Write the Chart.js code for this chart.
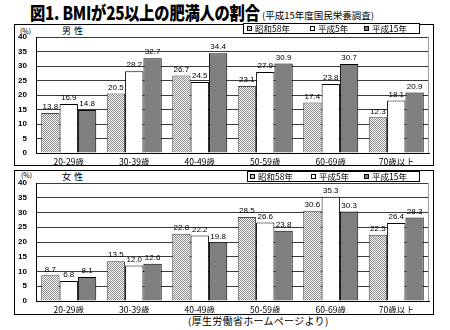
<!DOCTYPE html>
<html><head><meta charset="utf-8">
<script src="https://cdn.jsdelivr.net/npm/chart.js@4"></script>
<style>
html,body{margin:0;padding:0;background:#fff;width:450px;height:330px;overflow:hidden;position:relative;font-family:"Noto Sans CJK JP",sans-serif;color:#000;}
.box{position:absolute;border:1px solid #000;box-sizing:border-box;}
canvas{position:absolute;left:0;}
.txt{position:absolute;white-space:nowrap;line-height:1;}
#title{left:30px;top:3px;font-size:18px;font-weight:900;letter-spacing:-0.3px;transform:scaleX(0.85);transform-origin:0 0;}
#sub{left:262px;top:11px;font-size:9.5px;}
#foot{left:188px;top:316px;font-size:10px;letter-spacing:0.3px;}
.unit{font-size:7px;}
.sex{font-size:9px;letter-spacing:3px;}
</style></head>
<body>
<div class="txt" id="title">図1. BMIが25以上の肥満人の割合</div>
<div class="txt" id="sub">(平成15年度国民栄養調査)</div>
<div class="box" style="left:14px;top:24px;width:420px;height:142px;"></div>
<div class="box" style="left:14px;top:170px;width:420px;height:145px;"></div>
<div class="txt unit" style="left:20px;top:28px;">(%)</div>
<div class="txt sex" style="left:62px;top:26px;">男性</div>
<div class="txt unit" style="left:21px;top:172px;">(%)</div>
<div class="txt sex" style="left:62px;top:172px;">女性</div>
<div class="txt" id="foot">(厚生労働省ホームページより)</div>
<canvas id="c1" width="450" height="168" style="top:0px;"></canvas>
<canvas id="c2" width="450" height="162" style="top:168px;"></canvas>
<script>
const categories = ['20-29歳','30-39歳','40-49歳','50-59歳','60-69歳','70歳以上'];
const seriesNames = ['昭和58年','平成5年','平成15年'];
const menS58  = [13.8, 20.5, 26.7, 23.1, 17.4, 12.3];
const menH5   = [16.9, 28.2, 24.5, 27.9, 23.8, 18.1];
const menH15  = [14.8, 32.7, 34.4, 30.9, 30.7, 20.9];
const womenS58 = [8.7, 13.5, 22.8, 28.5, 30.6, 22.5];
const womenH5  = [6.8, 12.0, 22.2, 26.6, 35.3, 26.4];
const womenH15 = [8.1, 12.6, 19.8, 23.8, 30.3, 28.3];
const yMin = 0, yMax = 40, yStep = 5;

function makeDots(ctx){
  const c=document.createElement('canvas'); c.width=2; c.height=2;
  const x=c.getContext('2d');
  x.fillStyle='#fff'; x.fillRect(0,0,2,2);
  x.fillStyle='#8a8a8a'; x.fillRect(0,0,1,1); x.fillRect(1,1,1,1);
  return ctx.createPattern(c,'repeat');
}

const valueLabels = {
  id:'valueLabels',
  afterDatasetsDraw(chart){
    const ctx=chart.ctx; ctx.save();
    ctx.font='8px "Liberation Sans", Arial, sans-serif';
    ctx.fillStyle='#000'; ctx.textAlign='center'; ctx.textBaseline='bottom';
    chart.data.datasets.forEach((ds,i)=>{
      chart.getDatasetMeta(i).data.forEach((bar,j)=>{
        ctx.fillText(ds.data[j].toFixed(1), bar.x, bar.y-2);
      });
    });
    ctx.restore();
  }
};

const frame = {
  id:'frame',
  beforeDatasetsDraw(chart){
    const a=chart.chartArea, ctx=chart.ctx; ctx.save();
    ctx.strokeStyle='#9a9a9a'; ctx.lineWidth=1;
    ctx.beginPath(); ctx.moveTo(Math.round(a.right)-0.5,a.top); ctx.lineTo(Math.round(a.right)-0.5,a.bottom); ctx.stroke();
    ctx.restore();
  }
};

const boxLegend = {
  id:'boxLegend',
  afterDraw(chart, args, o){
    const ctx=chart.ctx; ctx.save();
    ctx.fillStyle='#fff'; ctx.fillRect(o.x0,o.y0,o.x1-o.x0,o.y1-o.y0);
    ctx.strokeStyle='#000'; ctx.lineWidth=1;
    ctx.strokeRect(o.x0+0.5,o.y0+0.5,o.x1-o.x0-1,o.y1-o.y0-1);
    ctx.font='8.5px "Noto Sans CJK JP", sans-serif';
    ctx.textBaseline='middle'; ctx.textAlign='left';
    const cy=(o.y0+o.y1)/2;
    chart.data.datasets.forEach((ds,i)=>{
      const x=o.itemX[i];
      ctx.fillStyle=ds.backgroundColor; ctx.fillRect(x,Math.round(cy-2.5),5,5);
      ctx.strokeStyle='#000'; ctx.strokeRect(x+0.5,Math.round(cy-2.5)+0.5,4,4);
      ctx.fillStyle='#000';
      ctx.fillText(ds.label, x+8, cy+0.5);
    });
    ctx.restore();
  }
};

function makeChart(id, d1, d2, d3, pad, legendPos){
  const canvas=document.getElementById(id);
  const ctx=canvas.getContext('2d');
  const dots=makeDots(ctx);
  return new Chart(ctx,{
    type:'bar',
    data:{labels:categories, datasets:[
      {label:seriesNames[0], data:d1, backgroundColor:dots, borderColor:'#444', borderWidth:1},
      {label:seriesNames[1], data:d2, backgroundColor:'#ffffff', borderColor:'#000', borderWidth:1},
      {label:seriesNames[2], data:d3, backgroundColor:'#7f7f7f', borderColor:'#000', borderWidth:1}
    ]},
    options:{
      responsive:false, animation:false, devicePixelRatio:1,
      layout:{padding:pad},
      datasets:{bar:{categoryPercentage:0.84, barPercentage:1.0}},
      plugins:{legend:{display:false}, tooltip:{enabled:false}, boxLegend:legendPos},
      scales:{
        x:{grid:{display:false, drawTicks:false}, border:{color:'#000',width:1},
           ticks:{padding:4, color:'#000', font:{family:'"Noto Sans CJK JP"', size:8.5}},
           afterFit(s){s.height=12;}},
        y:{min:yMin, max:yMax, ticks:{stepSize:yStep, padding:9, color:'#000', font:{family:'"Liberation Sans"', size:8, weight:'bold'}},
           grid:{color:'#3a3a3a', lineWidth:1, drawTicks:false}, border:{color:'#000',width:1},
           afterFit(s){s.width=22;}}
      }
    },
    plugins:[frame, valueLabels, boxLegend]
  });
}

makeChart('c1', menS58, menH5, menH15, {left:14,right:21,top:37,bottom:3}, {x0:243,x1:420,y0:23,y1:34,itemX:[247,310,364]});
makeChart('c2', womenS58, womenH5, womenH15, {left:14,right:21,top:15,bottom:17}, {x0:247,x1:420,y0:3,y1:14,itemX:[250,311,364]});
</script>
</body></html>
